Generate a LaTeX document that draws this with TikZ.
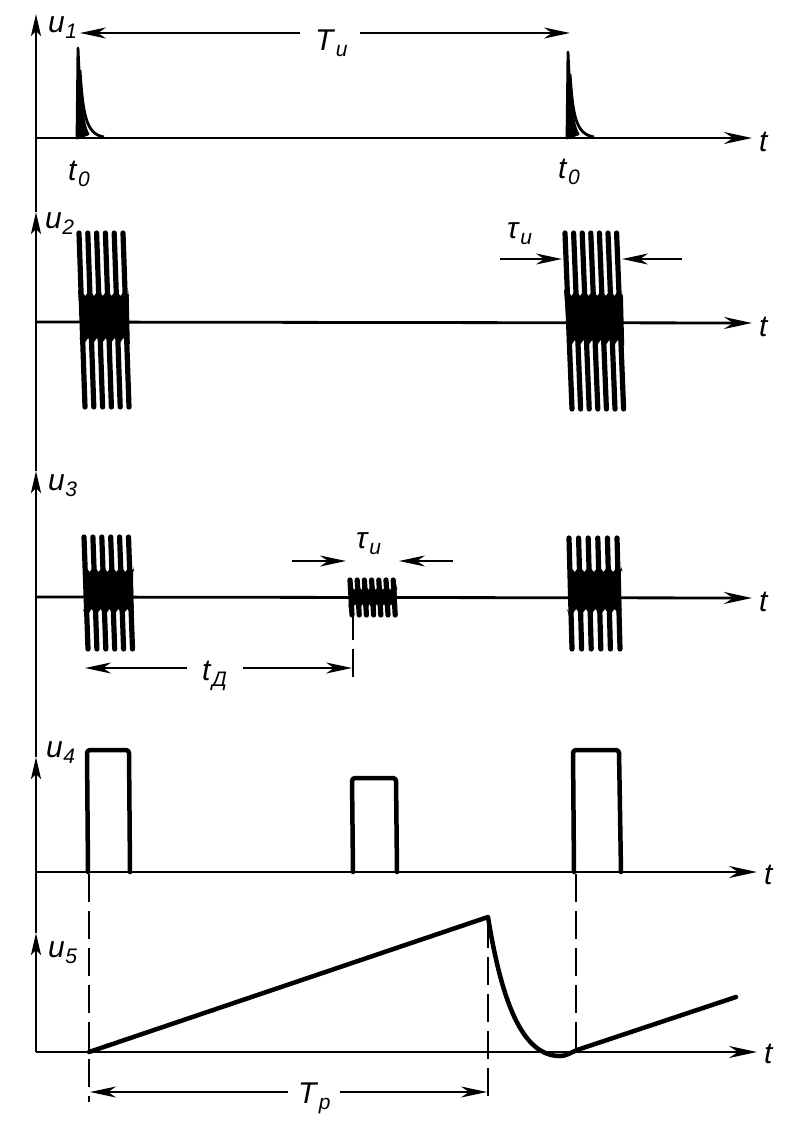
\documentclass[tikz,border=0pt]{standalone}
\usepackage{fontspec}
\setmainfont{Liberation Sans}
\usetikzlibrary{arrows.meta}
\newcommand{\lbl}[2]{\textit{#1}\kern0.5pt\raisebox{-0.4ex}{\fontsize{21}{21}\selectfont\textit{#2}}}
% #1 first top x, #2 spacing, #3 last index, #4 slant, #5 top y, #6 bottom y, #7 blob top y, #8 blob bottom y
\newcommand{\burst}[8]{%
  \foreach \i in {0,...,#3}{\draw[burstsig] ({#1+\i*#2},#5) -- ({#1+\i*#2+#4},#6);}
  \fill ({#1-1},#7) \foreach \i in {0,...,#3}{ -- ({#1+\i*#2+0.3*#4},#7) -- ({#1+\i*#2+0.3*#4+0.5*#2},{#7+6})}
    -- ({#1+#3*#2+0.6*#4+2},#7) -- ({#1+#3*#2+0.8*#4+2},#8)
    \foreach \i in {#3,...,0}{ -- ({#1+\i*#2+0.8*#4},#8) -- ({#1+\i*#2+0.8*#4-0.5*#2},{#8-6})}
    -- ({#1+0.8*#4-2},#8) -- cycle;}
\begin{document}
\begin{tikzpicture}[x=1pt,y=-1pt,
  axisv/.style={line width=2.8pt,-{Stealth[length=22pt,width=10pt,inset=5pt]}},
  axish/.style={line width=2.8pt,-{Stealth[length=28pt,width=12pt,inset=9pt]}},
  sig/.style={line width=4.5pt,line join=round,line cap=round},
  burstsig/.style={line width=5.2pt,line cap=round},
  dimarr/.style={line width=1.9pt,-{Stealth[length=26pt,width=11pt,inset=8pt]}},
  dashln/.style={line width=1.9pt,dash pattern=on 28pt off 9pt},
  lab/.style={inner sep=0pt,anchor=base west,font=\fontsize{30}{30}\selectfont}]
\fill[white] (0,0) rectangle (804,1122);
\useasboundingbox (0,0) rectangle (804,1122);

% vertical axis with arrowheads for each curve
\coordinate (v5) at (36,1052);
\coordinate (a5) at (36,933);
\coordinate (a4) at (36,757);
\coordinate (a3) at (36,471);
\coordinate (a2) at (36,212);
\coordinate (a1) at (36,14);
\draw[axisv] (v5) -- (a5);
\draw[axisv] (a5) -- (a4);
\draw[axisv] (a4) -- (a3);
\draw[axisv] (a3) -- (a2);
\draw[axisv] (a2) -- (a1);

% horizontal time axes
\coordinate (h1) at (36,138);  \coordinate (e1) at (752,138);
\coordinate (h2) at (36,322);  \coordinate (e2) at (752,323);
\coordinate (h3) at (36,597);  \coordinate (e3) at (752,598);
\coordinate (h4) at (36,872);  \coordinate (e4) at (757,872);
\coordinate (h5) at (36,1052); \coordinate (e5) at (757,1052);
\draw[axish] (h1) -- (e1);
\draw[axish] (h2) -- (e2);
\draw[axish] (h3) -- (e3);
\draw[axish] (h4) -- (e4);
\draw[axish] (h5) -- (e5);

% axis labels
\node[lab] (lu1) at (48,32) {\lbl{u}{1}};
\node[lab] (lu2) at (45,228) {\lbl{u}{2}};
\node[lab] (lu3) at (48,490) {\lbl{u}{3}};
\node[lab] (lu4) at (46,757) {\lbl{u}{4}};
\node[lab] (lu5) at (48,957) {\lbl{u}{5}};
\node[lab] (lt1) at (759,151) {\textit{t}};
\node[lab] (lt2) at (759,336) {\textit{t}};
\node[lab] (lt3) at (759,611) {\textit{t}};
\node[lab] (lt4) at (764,884) {\textit{t}};
\node[lab] (lt5) at (764,1063) {\textit{t}};

% u1: trigger spikes
\filldraw[line width=2.8pt,line join=round] (77,138) -- (78,48) .. controls (80,95) and (82,125) .. (88,134) -- cycle;
\draw[line width=2.8pt] (80,70) .. controls (83,115) and (86,134) .. (104,137);
\filldraw[line width=2.8pt,line join=round] (567,138) -- (568,52) .. controls (570,98) and (572,125) .. (578,134) -- cycle;
\draw[line width=2.8pt] (570,74) .. controls (573,117) and (576,134) .. (594,137);
\node[lab] (t0a) at (68,180) {\lbl{t}{0}};
\node[lab] (t0b) at (558,178) {\lbl{t}{0}};
\node[lab] (TI) at (315,50) {\lbl{T}{и}};
\coordinate (TIl) at (80,33); \coordinate (TIr) at (570,33);
\draw[dimarr] (300,33) -- (TIl);
\draw[dimarr] (360,33) -- (TIr);

% u2: radio pulses
\burst{79}{8.8}{5}{6}{233}{407}{290}{344}
\burst{565}{8.6}{6}{7}{233}{409}{290}{346}
\node[lab] (tau2) at (507,238) {\lbl{τ}{и}};
\draw[dimarr] (500,259) -- (562,259);
\draw[dimarr] (682,259) -- (622,259);

% u3: transmitted and echo pulses
\burst{84}{8.9}{5}{4}{537}{649}{566}{615}
\burst{569}{9.6}{5}{3}{538}{649}{566}{615}
\burst{350}{7.2}{6}{2}{580}{615}{584}{610}
\node[lab] (tau3) at (356,548) {\lbl{τ}{и}};
\draw[dimarr] (292,561) -- (346,561);
\draw[dimarr] (453,561) -- (399,561);
\draw[dashln] (353,612) -- (353,682);
\node[lab] (tD) at (202,680) {\lbl{t}{Д}};
\draw[dimarr] (187,668) -- (85,668);
\draw[dimarr] (243,668) -- (352,668);

% u4: video pulses
\draw[sig,rounded corners=3pt] (88,872) -- (87,750) -- (129,750) -- (130,872);
\draw[sig,rounded corners=3pt] (353,872) -- (352,778) -- (396,778) -- (397,872);
\draw[sig,rounded corners=3pt] (574,872) -- (573,750) -- (619,750) -- (621,872);

% dashed guide lines
\draw[dashln] (89,874) -- (89,1102);
\draw[dashln] (488,920) -- (488,1102);
\draw[dashln] (576,874) -- (576,1050);

% u5: sweep voltage
\draw[sig] (89,1052) -- (488,917) .. controls (503,1010) and (525,1056) .. (560,1056)
  .. controls (566,1056) and (570,1053) .. (577,1050) -- (736,997);
\node[lab] (Tp) at (298,1103) {\lbl{T}{р}};
\draw[dimarr] (288,1092) -- (90,1092);
\draw[dimarr] (340,1092) -- (487,1092);
\end{tikzpicture}
\end{document}
